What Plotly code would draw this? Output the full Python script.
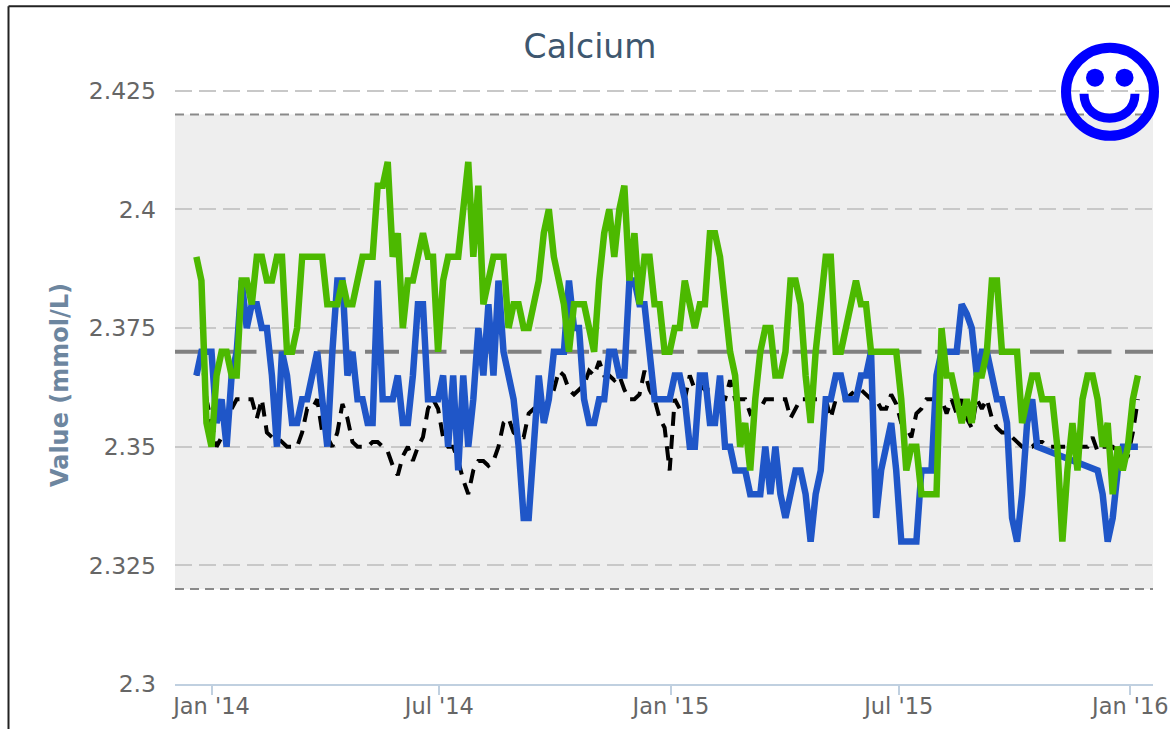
import pandas as pd
import plotly.graph_objects as go

TITLE = "Calcium"
Y_TITLE = "Value (mmol/L)"
Y_TICKS = [2.3, 2.325, 2.35, 2.375, 2.4, 2.425]
Y_TICK_LABELS = ["2.3", "2.325", "2.35", "2.375", "2.4", "2.425"]
BAND_LOW, BAND_HIGH, TARGET = 2.32, 2.42, 2.37

dates = pd.date_range("2013-12-20", periods=188, freq="4D")

green = [
 2.39,2.385,2.355,2.35,2.365,2.37,2.37,2.365,2.365,2.385,
 2.385,2.38,2.39,2.39,2.385,2.385,2.39,2.39,2.37,2.37,
 2.375,2.39,2.39,2.39,2.39,2.39,2.38,2.38,2.38,2.385,
 2.38,2.38,2.385,2.39,2.39,2.39,2.405,2.405,2.41,2.39,
 2.395,2.375,2.385,2.385,2.39,2.395,2.39,2.39,2.37,2.385,
 2.39,2.39,2.39,2.40,2.41,2.39,2.405,2.38,2.385,2.39,
 2.39,2.39,2.375,2.38,2.38,2.375,2.375,2.38,2.385,2.395,
 2.4,2.39,2.385,2.38,2.37,2.38,2.38,2.38,2.375,2.37,
 2.385,2.395,2.4,2.39,2.4,2.405,2.385,2.395,2.38,2.39,
 2.39,2.38,2.38,2.37,2.37,2.375,2.375,2.385,2.38,2.375,
 2.38,2.38,2.395,2.395,2.39,2.38,2.37,2.365,2.35,2.355,
 2.345,2.36,2.37,2.375,2.375,2.365,2.365,2.37,2.385,2.385,
 2.38,2.365,2.355,2.37,2.38,2.39,2.39,2.37,2.37,2.375,
 2.38,2.385,2.38,2.38,2.37,2.37,2.37,2.37,2.37,2.37,
 2.36,2.345,2.35,2.35,2.34,2.34,2.34,2.34,2.375,2.365,
 2.365,2.36,2.355,2.36,2.355,2.365,2.365,2.37,2.385,2.385,
 2.37,2.37,2.37,2.37,2.355,2.36,2.365,2.365,2.36,2.36,
 2.36,2.35,2.33,2.345,2.355,2.345,2.36,2.365,2.365,2.36,
 2.35,2.355,2.34,2.35,2.345,2.35,2.36,2.365,
]

blue = [
 2.365,2.37,2.37,2.37,2.355,2.36,2.35,2.365,2.37,2.385,
 2.375,2.38,2.38,2.375,2.375,2.365,2.35,2.37,2.365,2.355,
 2.355,2.36,2.36,2.365,2.37,2.36,2.35,2.37,2.385,2.385,
 2.365,2.37,2.36,2.36,2.355,2.355,2.385,2.36,2.36,2.36,
 2.365,2.355,2.355,2.365,2.38,2.38,2.36,2.36,2.36,2.365,
 2.35,2.365,2.345,2.365,2.35,2.36,2.375,2.365,2.38,2.365,
 2.385,2.37,2.365,2.36,2.35,2.335,2.335,2.35,2.365,2.355,
 2.36,2.37,2.37,2.37,2.385,2.375,2.375,2.36,2.355,2.355,
 2.36,2.36,2.37,2.37,2.365,2.365,2.385,2.385,2.38,2.38,
 2.37,2.36,2.36,2.36,2.36,2.365,2.365,2.36,2.35,2.35,
 2.365,2.365,2.355,2.355,2.365,2.35,2.35,2.345,2.345,2.345,
 2.34,2.34,2.34,2.35,2.34,2.35,2.34,2.335,2.34,2.345,
 2.345,2.34,2.33,2.34,2.345,2.36,2.36,2.365,2.365,2.36,
 2.36,2.36,2.365,2.365,2.37,2.335,2.345,2.35,2.355,2.345,
 2.33,2.33,2.33,2.33,2.345,2.345,2.345,2.365,2.37,2.37,
 2.37,2.37,2.38,2.378,2.375,2.365,2.37,2.37,2.365,2.36,
 2.36,2.355,2.335,2.33,2.34,2.355,2.36,2.35,None,None,
 None,None,None,None,None,None,None,None,None,2.345,
 2.34,2.33,2.335,2.345,2.35,2.35,2.35,2.35,
]

black = [
 2.365,2.37,2.36,2.355,2.35,2.352,2.355,2.358,2.36,2.36,
 2.36,2.36,2.356,2.36,2.353,2.352,2.352,2.351,2.35,2.35,
 2.35,2.353,2.358,2.358,2.36,2.353,2.352,2.35,2.353,2.359,
 2.356,2.351,2.35,2.35,2.35,2.351,2.351,2.35,2.349,2.346,
 2.344,2.348,2.35,2.347,2.35,2.352,2.358,2.36,2.358,2.352,
 2.35,2.35,2.347,2.343,2.34,2.345,2.347,2.347,2.346,2.347,
 2.35,2.355,2.356,2.353,2.352,2.352,2.357,2.358,2.358,2.357,
 2.36,2.362,2.366,2.365,2.362,2.361,2.362,2.363,2.366,2.365,
 2.368,2.365,2.365,2.364,2.365,2.362,2.36,2.36,2.361,2.366,
 2.362,2.36,2.356,2.354,2.345,2.36,2.358,2.36,2.365,2.362,
 2.363,2.362,2.362,2.361,2.36,2.36,2.364,2.36,2.36,2.36,
 2.357,2.358,2.358,2.36,2.36,2.36,2.36,2.36,2.356,2.358,
 2.36,2.36,2.36,2.36,2.36,2.36,2.356,2.36,2.36,2.36,
 2.361,2.362,2.362,2.361,2.36,2.36,2.358,2.358,2.361,2.359,
 2.355,2.354,2.352,2.357,2.358,2.36,2.36,2.36,2.36,2.357,
 2.36,2.357,2.36,2.356,2.354,2.36,2.358,2.36,2.356,2.354,
 2.353,2.353,2.352,2.351,2.35,2.35,2.35,2.351,2.351,2.35,
 2.35,2.35,2.35,2.35,2.35,2.35,2.35,2.35,2.352,2.349,
 2.35,2.35,2.35,2.349,2.347,2.348,2.353,2.36,
]

W, H = 1170, 729
L, R, T, B = 175, 1153, 86.26, 684
fx = lambda p: (p - L) / (R - L)
fy = lambda p: (B - p) / (B - T)
X_RANGE = ["2013-12-03", "2016-01-19"]
Y_RANGE = [2.3, 2.426]
FONT = "DejaVu Sans"

fig = go.Figure()
fig.add_trace(go.Scatter(x=dates, y=black, mode="lines", line=dict(color="#000000", width=4, dash="14px,9px"), showlegend=False))
fig.add_trace(go.Scatter(x=dates, y=blue, mode="lines", connectgaps=True, line=dict(color="#1f56c8", width=6.5), showlegend=False))
fig.add_trace(go.Scatter(x=dates, y=green, mode="lines", line=dict(color="#4cb900", width=6.5), showlegend=False))

shapes = [
 dict(type="rect", xref="paper", yref="y", x0=0, x1=1, y0=BAND_LOW, y1=BAND_HIGH, fillcolor="#eeeeee", line_width=0, layer="below"),
 dict(type="line", xref="x", yref="y", x0=X_RANGE[0], x1=X_RANGE[1], y0=BAND_HIGH, y1=BAND_HIGH, line=dict(color="#8a8a8a", width=2, dash="9px,6px"), layer="below"),
 dict(type="line", xref="x", yref="y", x0=X_RANGE[0], x1=X_RANGE[1], y0=BAND_LOW, y1=BAND_LOW, line=dict(color="#8a8a8a", width=2, dash="9px,6px"), layer="below"),
 dict(type="line", xref="x", yref="y", x0=X_RANGE[0], x1=X_RANGE[1], y0=TARGET, y1=TARGET, line=dict(color="#808080", width=4, dash="34px,13.5px"), layer="below"),
 # page frame
 dict(type="line", xref="paper", yref="paper", x0=fx(8.5), x1=fx(8.5), y0=fy(6.5), y1=fy(729), line=dict(color="#222222", width=2), layer="above"),
 dict(type="line", xref="paper", yref="paper", x0=fx(8.5), x1=fx(1170), y0=fy(6.5), y1=fy(6.5), line=dict(color="#222222", width=2), layer="above"),
 # smiley
 dict(type="circle", xref="paper", yref="paper", x0=fx(1066), x1=fx(1154), y0=fy(136), y1=fy(48), line=dict(color="#0000ff", width=10), fillcolor="rgba(0,0,0,0)", layer="above"),
 dict(type="circle", xref="paper", yref="paper", x0=fx(1086), x1=fx(1104), y0=fy(87), y1=fy(69), line_width=0, fillcolor="#0000ff", layer="above"),
 dict(type="circle", xref="paper", yref="paper", x0=fx(1115.5), x1=fx(1133.5), y0=fy(87), y1=fy(69), line_width=0, fillcolor="#0000ff", layer="above"),
 dict(type="path", xref="paper", yref="paper",
      path=f"M {fx(1084)} {fy(94)} C {fx(1084)} {fy(126.5)} {fx(1135)} {fy(126.5)} {fx(1135)} {fy(94)}",
      line=dict(color="#0000ff", width=9), fillcolor="rgba(0,0,0,0)", layer="above"),
]

fig.update_layout(
    width=W, height=H, autosize=False,
    margin=dict(l=L, r=W - R, t=T, b=H - B, pad=0),
    paper_bgcolor="#ffffff", plot_bgcolor="#ffffff",
    font=dict(family=FONT, color="#666666"),
    title=dict(text=TITLE, xref="container", x=590 / W, xanchor="center", yref="container", y=1 - 46 / H, yanchor="middle",
               font=dict(size=33, color="#3e576f", family=FONT)),
    showlegend=False, shapes=shapes,
)
fig.update_xaxes(type="date", range=X_RANGE, dtick="M6", tick0="2014-01-01", tickformat="%b '%y",
                 showgrid=False, zeroline=False, showline=True, linecolor="#c0d0e0", linewidth=2,
                 ticks="outside", ticklen=9, tickwidth=2, tickcolor="#c0d0e0", automargin=False,
                 ticklabelstandoff=-8, tickfont=dict(size=22.5, color="#666666"))
fig.update_yaxes(range=Y_RANGE, tickvals=Y_TICKS, ticktext=Y_TICK_LABELS, showgrid=True, automargin=False,
                 gridcolor="#c8c8c8", gridwidth=2, griddash="17px,7px", zeroline=False, showline=False,
                 ticks="", ticklabelstandoff=18, tickfont=dict(size=23.5, color="#666666"),
                 title=dict(text=f"<b>{Y_TITLE}</b>", standoff=13, font=dict(size=24, color="#6d869f")))

fig.write_html("out.html", config={"displayModeBar": False},
               post_script="document.body.style.margin='0';document.body.style.overflow='hidden';")
